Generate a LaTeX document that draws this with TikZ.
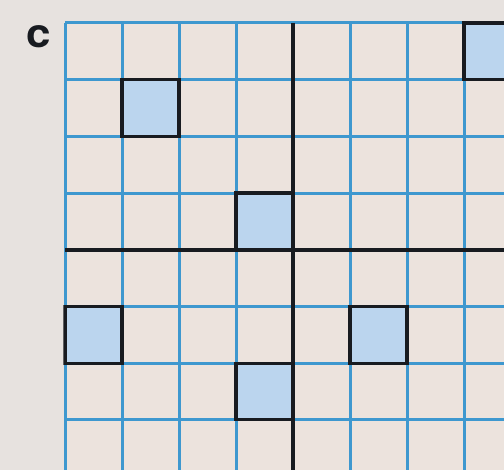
\documentclass[tikz,border=0pt]{standalone}
\usepackage{fontspec}
\setmainfont{TeX Gyre Heros}
\definecolor{bg}{HTML}{E7E2DF}
\definecolor{paper}{HTML}{ECE3DD}
\definecolor{gridblue}{HTML}{3E98CF}
\definecolor{cellfill}{HTML}{BBD5EE}
\definecolor{ink}{HTML}{181B20}
\tikzset{
  gridline/.style={draw=gridblue, line width=3pt},
  axisline/.style={draw=ink, line width=3.2pt},
  cellborder/.style={draw=ink, line width=3.2pt, fill=cellfill},
  panellabel/.style={inner sep=0pt, font=\bfseries\fontsize{40}{40}\selectfont, text=ink}
}
\begin{document}
\begin{tikzpicture}[x=1pt,y=-1pt]
\fill[bg] (0,0) rectangle (504,470);
\useasboundingbox (0,0) rectangle (504,470);
\node[panellabel, xscale=1.1] (label) at (39,36.5) {c};
\begin{scope}
  \clip (63.3,21.3) rectangle (504,470);
  \fill[paper] (65,23) rectangle (504,470);
  \foreach \c/\r in {7/0,1/1,3/3,0/5,5/5,3/6}
    \fill[cellfill] ({65+57*\c},{23+56.7*\r}) rectangle ++(57,56.7);
  \foreach \k in {0,...,8}
    \draw[gridline] ({65+57*\k},23) -- ({65+57*\k},470);
  \foreach \k in {0,...,8}
    \draw[gridline] (65,{23+56.7*\k}) -- (504,{23+56.7*\k});
  \draw[axisline] (293,23) -- (293,470);
  \draw[axisline] (65,250) -- (504,250);
  \foreach \c/\r in {7/0,1/1,3/3,0/5,5/5,3/6}
    \draw[cellborder] ({65+57*\c},{23+56.7*\r}) rectangle ++(57,56.7);
\end{scope}
\end{tikzpicture}
\end{document}
